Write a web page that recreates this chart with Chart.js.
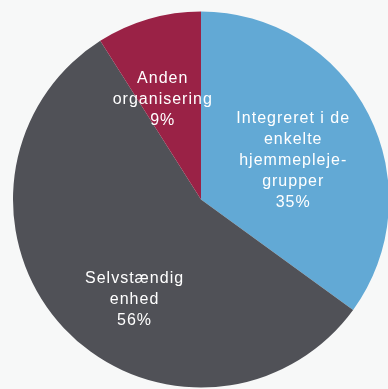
<!DOCTYPE html>
<html>
<head>
<meta charset="utf-8">
<script src="https://cdn.jsdelivr.net/npm/chart.js@4/dist/chart.umd.min.js"></script>
<style>
  html, body { margin: 0; padding: 0; background: #f7f8f8; overflow: hidden; }
  .wrap { position: relative; width: 402px; height: 400px; }
</style>
</head>
<body>
<div class="wrap"><canvas id="myChart"></canvas></div>
<script>
/*Data*/

const categories = [
    ['Integreret i de', 'enkelte', 'hjemmepleje-', 'grupper'],
    ['Selvstændig', 'enhed'],
    ['Anden', 'organisering']
];
const shares = [35, 56, 9];
const colors = ['#62a9d5', '#505157', '#9a2246'];

// label placement: fraction of radius and angle nudge (degrees) from slice middle
const labelRadius = [0.53, 0.64, 0.57];
const labelNudge = [4, -13, -5];

/*Labels inside slices*/

const sliceLabels = {
    id: 'sliceLabels',
    afterDatasetsDraw(chart) {
        const ctx = chart.ctx;
        const meta = chart.getDatasetMeta(0);
        ctx.save();
        ctx.fillStyle = '#ffffff';
        ctx.font = '16px "Liberation Sans", Arial, sans-serif';
        ctx.letterSpacing = '1px';
        ctx.textAlign = 'center';
        ctx.textBaseline = 'middle';
        const lineH = 21;
        meta.data.forEach(function(arc, i){
            const p = arc.getProps(['x', 'y', 'startAngle', 'endAngle', 'outerRadius'], true);
            const mid = (p.startAngle + p.endAngle) / 2 + labelNudge[i] * Math.PI / 180;
            const r = p.outerRadius * labelRadius[i];
            const cx = p.x + Math.cos(mid) * r + 0.5;
            const cy = p.y + Math.sin(mid) * r;
            const lines = categories[i].concat([shares[i] + '%']);
            const top = cy - (lines.length - 1) * lineH / 2;
            lines.forEach(function(line, j){
                ctx.fillText(line, cx, top + j * lineH);
            });
        });
        ctx.restore();
    }
};

/*Chart*/

function initChart() {
    const ctx = document.getElementById('myChart').getContext('2d');

    const myChart = new Chart(ctx, {
        type: 'pie',
        data: {
            labels: categories.map(c => c.join(' ')),
            datasets: [{
                data: shares,
                backgroundColor: colors,
                borderWidth: 0,
            }]
        },
        options: {
            responsive: true,
            maintainAspectRatio: false,
            animation: false,
            layout: {
                padding: { left: 13, right: 13, top: 11, bottom: 12 }
            },
            plugins: {
                legend: { display: false },
                tooltip: { enabled: false },
            }
        },
        plugins: [sliceLabels]
    });
}

initChart();
</script>
</body>
</html>
